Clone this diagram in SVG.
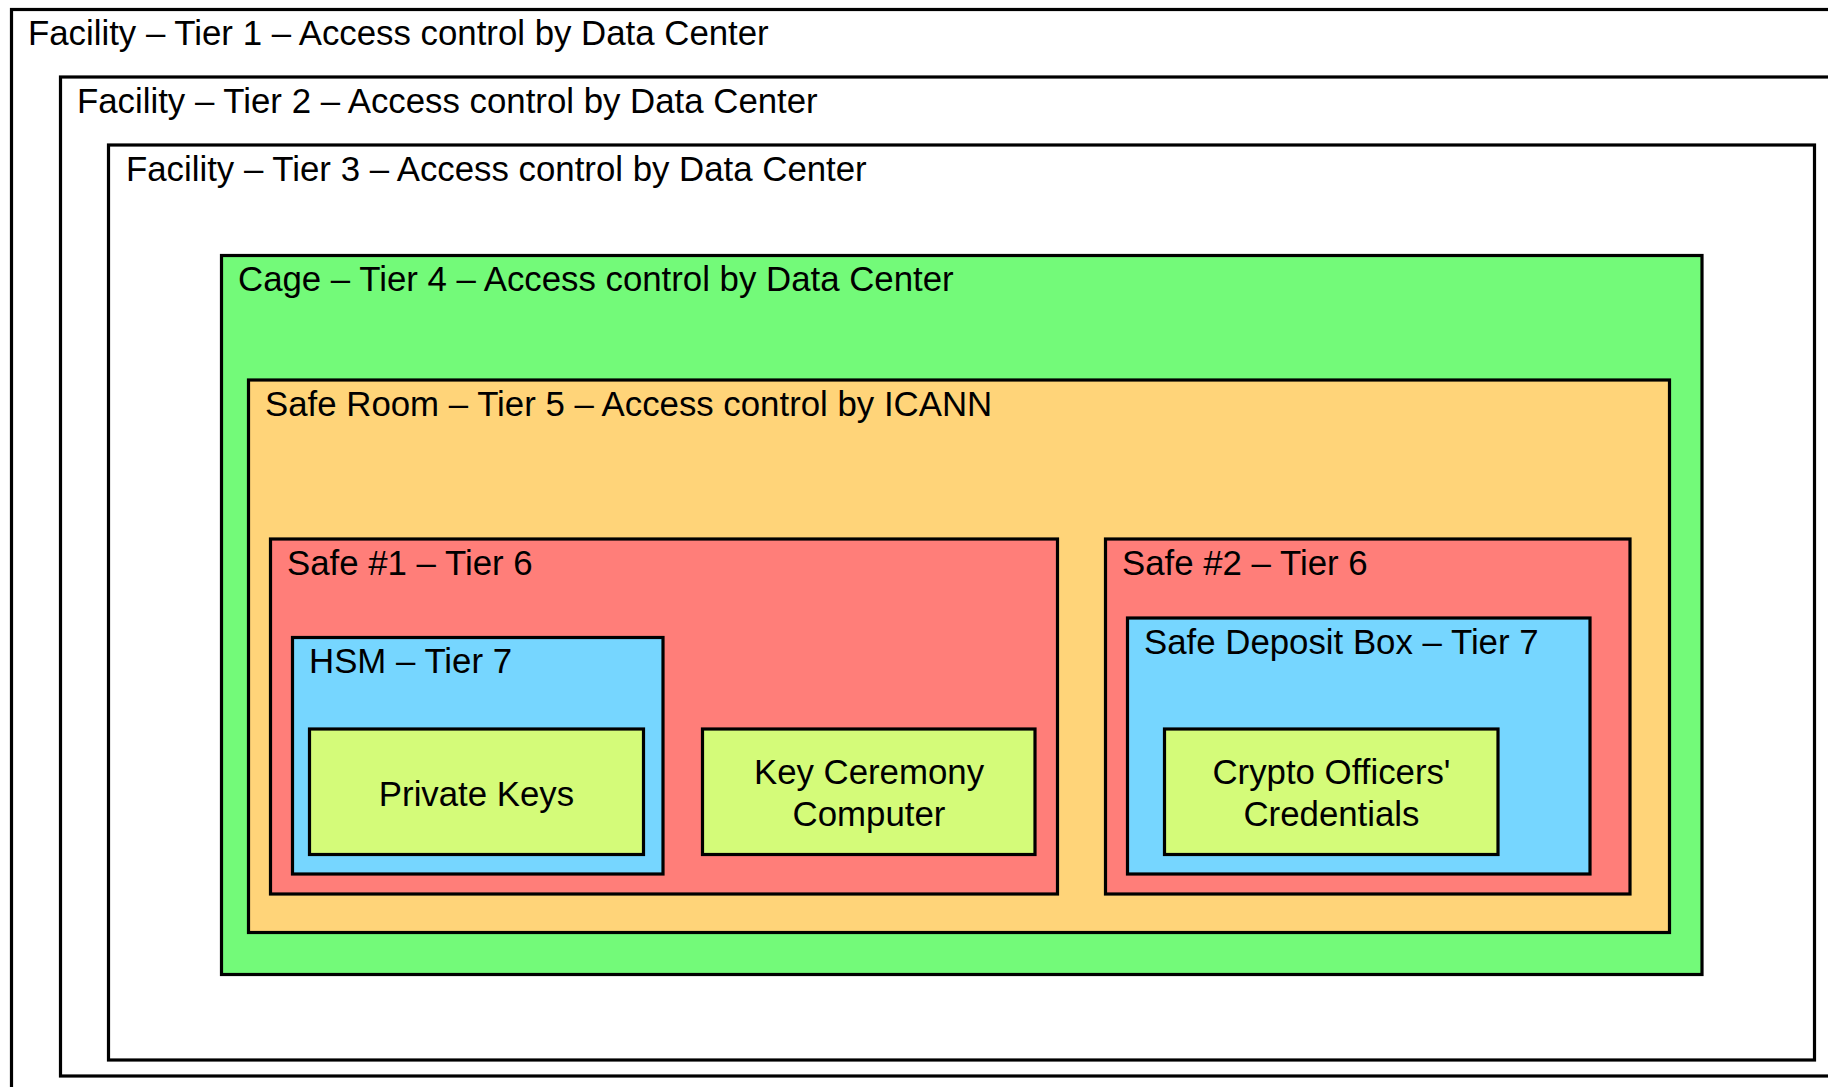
<svg xmlns="http://www.w3.org/2000/svg" width="1828" height="1087" viewBox="0 0 1828 1087">
<style>
.n{stroke:#000;stroke-width:3.2}
text{font-family:"Liberation Sans",Arial,Helvetica,sans-serif;font-size:34.8px;fill:#000}
.c{text-anchor:middle}
.w{fill:#fff}.g{fill:#73FA79}.o{fill:#FFD479}.r{fill:#FF7E79}.b{fill:#76D6FF}.y{fill:#D4FB79}
</style>
<rect x="0" y="0" width="1828" height="1087" fill="#fff"/>
<g id="tier1"><rect class="n w" x="11.5" y="9.5" width="1840" height="1100"/><text x="28" y="44.5">Facility – Tier 1 – Access control by Data Center</text></g>
<g id="tier2"><rect class="n w" x="60.5" y="77" width="1800" height="999"/><text x="77" y="112.5">Facility – Tier 2 – Access control by Data Center</text></g>
<g id="tier3"><rect class="n w" x="108.5" y="145" width="1706" height="915"/><text x="126" y="180.5">Facility – Tier 3 – Access control by Data Center</text></g>
<g id="cage"><rect class="n g" x="221.5" y="255.5" width="1480.5" height="719"/><text x="238" y="291">Cage – Tier 4 – Access control by Data Center</text></g>
<g id="saferoom"><rect class="n o" x="248.5" y="380" width="1421" height="552.5"/><text x="265" y="415.5">Safe Room – Tier 5 – Access control by ICANN</text></g>
<g id="safe1"><rect class="n r" x="270.5" y="539" width="787" height="355"/><text x="287" y="574.5">Safe #1 – Tier 6</text></g>
<g id="hsm"><rect class="n b" x="292.5" y="637.5" width="370.5" height="236.5"/><text x="309" y="672.5">HSM – Tier 7</text></g>
<g id="privatekeys"><rect class="n y" x="309.5" y="729" width="334" height="125.5"/><text class="c" x="476.5" y="806">Private Keys</text></g>
<g id="keyceremony"><rect class="n y" x="702.5" y="729" width="332.5" height="125.5"/><text class="c" x="869" y="784">Key Ceremony</text><text class="c" x="869" y="826">Computer</text></g>
<g id="safe2"><rect class="n r" x="1105.5" y="539" width="524.5" height="355"/><text x="1122" y="574.5">Safe #2 – Tier 6</text></g>
<g id="sdb"><rect class="n b" x="1127.5" y="618" width="462.5" height="256"/><text x="1144" y="653.5">Safe Deposit Box – Tier 7</text></g>
<g id="crypto"><rect class="n y" x="1164.5" y="729" width="333.5" height="125.5"/><text class="c" x="1331.5" y="784">Crypto Officers'</text><text class="c" x="1331.5" y="826">Credentials</text></g>
<g id="connectors"></g>
</svg>
